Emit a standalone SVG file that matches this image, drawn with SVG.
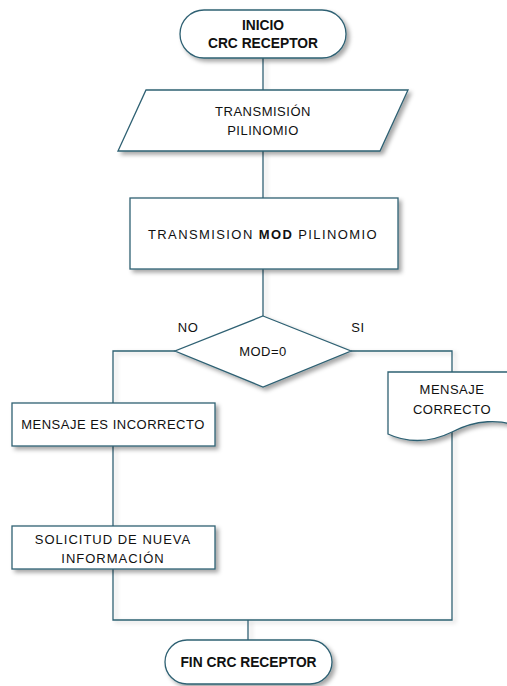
<svg xmlns="http://www.w3.org/2000/svg" width="507" height="686" viewBox="0 0 507 686">
  <defs>
    <filter id="shadow" x="-10%" y="-10%" width="130%" height="140%">
      <feDropShadow dx="3" dy="3" stdDeviation="2" flood-color="#000" flood-opacity="0.35"/>
    </filter>
    <filter id="lineShadow" filterUnits="userSpaceOnUse" x="0" y="0" width="507" height="686">
      <feDropShadow dx="3" dy="2" stdDeviation="2" flood-color="#000" flood-opacity="0.2"/>
    </filter>
  </defs>
  <style>
    .shape { fill: #ffffff; stroke: #2f6173; stroke-width: 1.3; filter: url(#shadow); }
    .conn { fill: none; stroke: #2f6173; stroke-width: 1.3; filter: url(#lineShadow); }
    .t { font-family: "Liberation Sans", Arial, sans-serif; font-size: 13px; fill: #111; text-anchor: middle; letter-spacing: 0.5px; }
    .b { font-weight: bold; font-size: 13.8px; letter-spacing: 0; }
  </style>

  <rect width="507" height="686" fill="#ffffff"/>

  <!-- connectors -->
  <g id="connectors">
    <path class="conn" d="M263,58 V90"/>
    <path class="conn" d="M263,151 V198"/>
    <path class="conn" d="M263,269 V316"/>
    <path class="conn" d="M175,351 H113 V403"/>
    <path class="conn" d="M113,446 V526"/>
    <path class="conn" d="M113,569 V620 H452 V432"/>
    <path class="conn" d="M351,351 H452 V372"/>
    <path class="conn" d="M248,620 V640"/>
  </g>

  <!-- start terminator -->
  <g id="inicio">
    <rect class="shape" x="180" y="10" width="166" height="48" rx="24" ry="24"/>
    <text class="t b" x="263" y="30">INICIO</text>
    <text class="t b" x="263" y="48">CRC RECEPTOR</text>
  </g>

  <!-- input / data -->
  <g id="transmision">
    <polygon class="shape" points="146,90 408,90 380,151 118,151"/>
    <text class="t" x="263" y="116">TRANSMISIÓN</text>
    <text class="t" x="263" y="135">PILINOMIO</text>
  </g>

  <!-- process -->
  <g id="mod">
    <rect class="shape" x="130" y="198" width="268" height="71"/>
    <text class="t" x="263" y="239" style="letter-spacing:1.4px">TRANSMISION <tspan font-weight="bold">MOD</tspan> PILINOMIO</text>
  </g>

  <!-- decision -->
  <g id="decision">
    <polygon class="shape" points="263,316 351,351 263,387 175,351"/>
    <text class="t" x="263" y="356">MOD=0</text>
  </g>
  <text class="t" x="188" y="332">NO</text>
  <text class="t" x="358" y="332">SI</text>

  <!-- error branch -->
  <g id="incorrecto">
    <rect class="shape" x="12" y="403" width="203" height="43"/>
    <text class="t" x="113" y="429">MENSAJE ES INCORRECTO</text>
  </g>
  <g id="solicitud">
    <rect class="shape" x="12" y="526" width="203" height="43"/>
    <text class="t" x="113" y="544" style="letter-spacing:1px">SOLICITUD DE NUEVA</text>
    <text class="t" x="113" y="563" style="letter-spacing:1px">INFORMACIÓN</text>
  </g>

  <!-- document -->
  <g id="correcto">
    <path class="shape" d="M388,372 H522 V428 C500,418 475,420 452,432 C428,444 405,442 388,434 Z"/>
    <text class="t" x="452" y="394">MENSAJE</text>
    <text class="t" x="452" y="414">CORRECTO</text>
  </g>

  <!-- end terminator -->
  <g id="fin">
    <rect class="shape" x="165" y="640" width="167" height="44" rx="22" ry="22"/>
    <text class="t b" x="248.5" y="667">FIN CRC RECEPTOR</text>
  </g>
</svg>
